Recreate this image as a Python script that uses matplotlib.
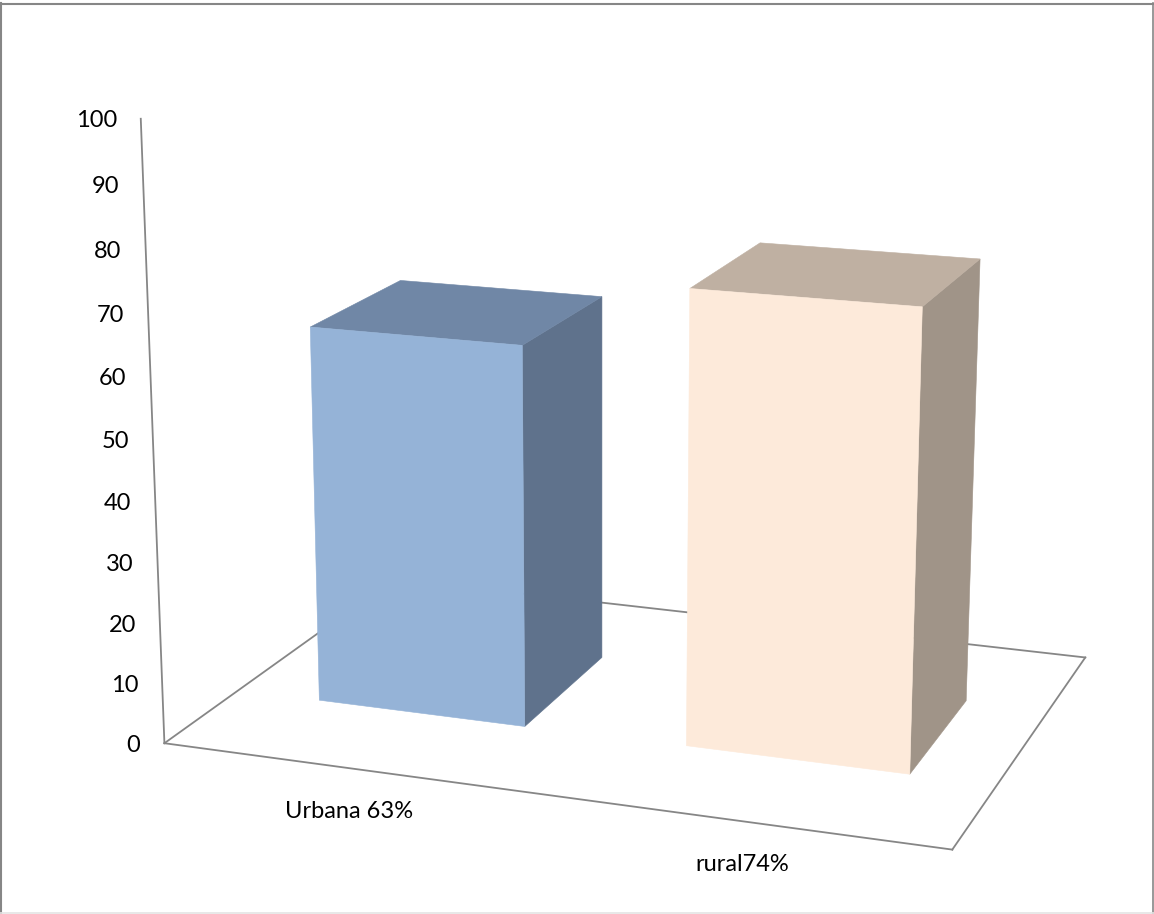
import numpy as np
import matplotlib
matplotlib.use("Agg")
import matplotlib.pyplot as plt

# Datos de la grafica
categorias = ["Urbana 63%", "rural74%"]
valores = [63, 74]
ticks_y = [0, 10, 20, 30, 40, 50, 60, 70, 80, 90, 100]

# Colores de cada barra: frente, lado y tapa
color_frente = ["#95b3d7", "#fdeada"]
color_lado = ["#5f728c", "#a09488"]
color_tapa = ["#7087a6", "#bfb0a2"]
color_linea = "#868686"

# Camara 3D: (posicion categoria, profundidad, valor) -> pixeles
CAMARA = np.array([
    [354.8858785, 290.3741168, -0.3086287, 164.4077967],
    [18.3462668, -74.4133042, -6.3055338, 743.2184702],
    [-0.0410124, 0.1550734, -0.0005133, 1.0],
])

# Base de cada barra: x izquierda, x derecha, profundidad frente, profundidad fondo
bases = [
    (0.2287, 0.7942, 0.2939, 0.6905),
    (1.2185, 1.7860, 0.3007, 0.6913),
]


def proyectar(x, d, v):
    h = CAMARA @ np.array([x, d, v, 1.0])
    return h[:2] / h[2]


def poligono(ax, puntos, color):
    xy = np.array([proyectar(*p) for p in puntos])
    ax.fill(xy[:, 0], xy[:, 1], color=color, linewidth=0.4, zorder=3)


def linea(ax, a, b):
    xy = np.array([proyectar(*a), proyectar(*b)])
    ax.plot(xy[:, 0], xy[:, 1], color=color_linea, linewidth=1.3, zorder=1)


plt.rcParams["font.family"] = ["Lato", "DejaVu Sans"]

fig = plt.figure(figsize=(11.54, 9.14), dpi=100)
ax = fig.add_axes([0, 0, 1, 1])
ax.set_xlim(0, 1154)
ax.set_ylim(914, 0)
ax.axis("off")

# Marco exterior
ax.plot([1, 1], [3, 914], color=color_linea, linewidth=1.5, zorder=1)
ax.plot([0, 1154], [4, 4], color=color_linea, linewidth=1.5, zorder=1)
ax.plot([1153, 1153], [3, 914], color=color_linea, linewidth=1.2, zorder=1)
ax.plot([0, 1154], [913, 913], color="#e4e4e4", linewidth=1.2, zorder=1)

# Piso y eje vertical
linea(ax, (0, 0, 0), (2, 0, 0))
linea(ax, (2, 0, 0), (2, 1, 0))
linea(ax, (2, 1, 0), (0, 1, 0))
linea(ax, (0, 1, 0), (0, 0, 0))
linea(ax, (0, 0, 0), (0, 0, ticks_y[-1]))

# Barras 3D
for i, valor in enumerate(valores):
    x0, x1, d0, d1 = bases[i]
    poligono(ax, [(x1, d0, 0), (x1, d1, 0), (x1, d1, valor), (x1, d0, valor)], color_lado[i])
    poligono(ax, [(x0, d0, valor), (x1, d0, valor), (x1, d1, valor), (x0, d1, valor)], color_tapa[i])
    poligono(ax, [(x0, d0, 0), (x1, d0, 0), (x1, d0, valor), (x0, d0, valor)], color_frente[i])

# Etiquetas del eje vertical
for t in ticks_y:
    px, py = proyectar(0, 0, t)
    ax.text(px - 24, py + 2, str(t), ha="right", va="center", fontsize=17, color="black")

# Etiquetas de categoria
for i, nombre in enumerate(categorias):
    px, py = proyectar(i + 0.5, 0, 0)
    ax.text(px, py + 43, nombre, ha="center", va="center", fontsize=17, color="black")

fig.savefig("out.png", dpi=100)
plt.close(fig)
